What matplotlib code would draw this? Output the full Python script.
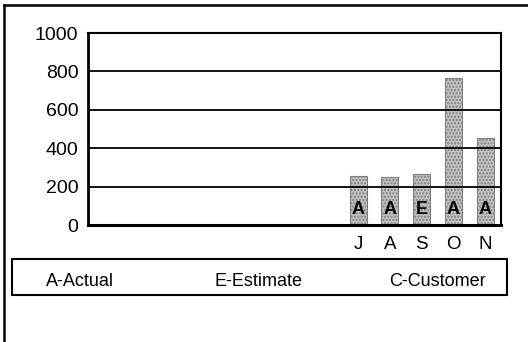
import numpy as np
import matplotlib.pyplot as plt
from matplotlib.patches import Rectangle
from matplotlib.lines import Line2D

plt.rcParams['font.family'] = ['Liberation Sans', 'DejaVu Sans']

# 13 category slots, only the last five have data
months = ['', '', '', '', '', '', '', '', 'J', 'A', 'S', 'O', 'N']
values = [np.nan] * 8 + [255, 250, 268, 765, 455]
status = [''] * 8 + ['A', 'A', 'E', 'A', 'A']
legend_items = ['A-Actual', 'E-Estimate', 'C-Customer']

fig = plt.figure(figsize=(5.28, 3.42), dpi=100)
ax = fig.add_axes([0.1667, 0.342, 0.7823, 0.5613])

x = np.arange(len(months))
vals = np.array(values, dtype=float)
has = ~np.isnan(vals)

ax.bar(x[has], vals[has], width=0.53, color='#c0c0c0', edgecolor='#808080',
       linewidth=0.8, hatch='.....', zorder=2)
for xi, s in zip(x[has], np.array(status)[has]):
    ax.text(xi, 80, s, ha='center', va='center', fontsize=13,
            fontweight='bold', zorder=4)

ax.set_xlim(-0.5, len(months) - 0.5)
ax.set_ylim(0, 1000)
ax.set_yticks(np.arange(0, 1001, 200))
ax.set_xticks(x)
ax.set_xticklabels(months)
ax.tick_params(axis='y', length=0, labelsize=14, pad=7)
ax.tick_params(axis='x', length=0, labelsize=13.5, pad=8)
ax.yaxis.grid(True, color='black', linewidth=1.3, zorder=3)
ax.set_axisbelow(False)

ax.spines['left'].set_linewidth(2)
ax.spines['bottom'].set_linewidth(2.2)
ax.spines['top'].set_linewidth(1.5)
ax.spines['right'].set_linewidth(1.5)

# legend box
fig.add_artist(Rectangle((0.0235, 0.138), 0.937, 0.105, transform=fig.transFigure,
                         fill=False, edgecolor='black', linewidth=1.5))
for xc, t in zip([0.152, 0.49, 0.828], legend_items):
    fig.text(xc, 0.176, t, ha='center', va='center', fontsize=13)

# outer frame (top and left only visible)
fig.add_artist(Line2D([0.0076, 1.0], [0.985, 0.985], transform=fig.transFigure,
                      color='black', linewidth=1.8))
fig.add_artist(Line2D([0.0076, 0.0076], [0.0, 0.985], transform=fig.transFigure,
                      color='black', linewidth=1.8))

fig.savefig('out.png', dpi=100)
